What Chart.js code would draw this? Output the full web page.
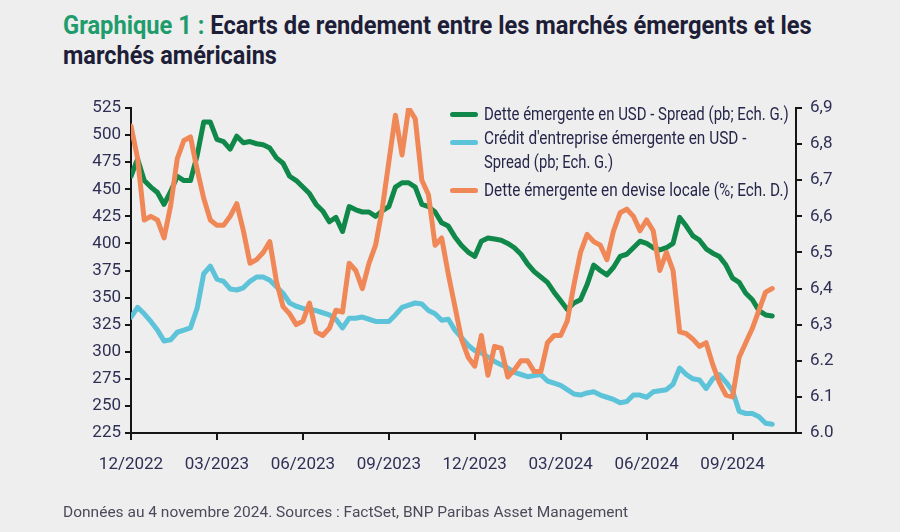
<!DOCTYPE html>
<html>
<head>
<meta charset="utf-8">
<title>Graphique 1 - Ecarts de rendement</title>
<script src="https://cdn.jsdelivr.net/npm/chart.js"></script>
<style>
  body { margin: 0; background: #eeeeee; }
  #wrap {
    position: relative; width: 900px; height: 532px; overflow: hidden;
    font-family: 'Roboto', 'Liberation Sans', sans-serif;
    color: #24243f;
  }
  .fit { position: absolute; white-space: nowrap; transform-origin: 0 0; }
  .title { left: 63px; font-size: 26px; font-weight: bold; color: #1e1e38; }
  .title span { color: #1f9c6c; }
  #chartBox { position: absolute; left: 0; top: 0; width: 900px; height: 532px; }
  .leg { left: 484px; font-size: 18px; color: #26264a; }
  .swatch { position: absolute; left: 450px; width: 28px; height: 5px; border-radius: 3px; }
  .note { left: 63px; font-size: 14px; color: #4a4a5a; }
</style>
</head>
<body>
<div id="wrap">
  <div class="fit title" style="top:10px;" data-w="749"><span>Graphique 1 :</span> Ecarts de rendement entre les marchés émergents et les</div>
  <div class="fit title" style="top:40px;" data-w="214">marchés américains</div>
  <div id="chartBox"><canvas id="spreadChart"></canvas></div>

  <!-- legend -->
  <div class="swatch" style="top:112px; background:#10884a;"></div>
  <div class="fit leg" style="top:103px;" data-w="305">Dette émergente en USD - Spread (pb; Ech. G.)</div>
  <div class="swatch" style="top:140px; background:#5cc3d9;"></div>
  <div class="fit leg" style="top:127px;" data-w="262">Crédit d'entreprise émergente en USD -</div>
  <div class="fit leg" style="top:151px;" data-w="129">Spread (pb; Ech. G.)</div>
  <div class="swatch" style="top:188px; background:#f08757;"></div>
  <div class="fit leg" style="top:179px;" data-w="305">Dette émergente en devise locale (%; Ech. D.)</div>

  <div class="fit note" style="top:504px;" data-w="565">Données au 4 novembre 2024. Sources : FactSet, BNP Paribas Asset Management</div>
</div>

<script>
// weekly readings, 12/2022 -> early 11/2024
const usdSpread = [
  462, 478, 458, 452, 447, 436, 448, 462, 458, 458,
  481, 512, 512, 496, 494, 487, 499, 493, 494, 492,
  491, 488, 479, 474, 462, 458, 452, 446, 436, 430,
  420, 424, 411, 434, 431, 429, 429, 425, 430, 434,
  452, 456, 456, 452, 436, 434, 429, 419, 416, 406,
  398, 392, 388, 402, 405, 404, 403, 400, 396, 390,
  381, 374, 369, 364, 355, 347, 339, 345, 348, 362,
  380, 375, 371, 378, 388, 390, 396, 402, 400, 396,
  394, 396, 400, 424, 416, 407, 403, 395, 391, 388,
  380, 368, 364, 354, 348, 338, 334, 333
];
const corpSpread = [
  332, 341, 335, 328, 320, 310, 311, 318, 320, 322,
  340, 372, 379, 367, 365, 358, 357, 359, 365, 369,
  369, 366, 360, 354, 345, 342, 340, 339, 338, 336,
  334, 330, 322, 331, 331, 332, 330, 328, 328, 328,
  334, 341, 343, 345, 344, 338, 335, 329, 330, 320,
  313, 306, 301, 299, 295, 291, 288, 285, 281, 279,
  277, 278, 279, 273, 271, 269, 265, 261, 260, 262,
  263, 260, 258, 256, 253, 254, 260, 260, 258, 263,
  264, 265, 270, 285, 279, 275, 274, 266, 275, 279,
  272, 264, 245, 243, 243, 240, 234, 233
];
const localYield = [
  6.85, 6.76, 6.59, 6.60, 6.59, 6.54, 6.63, 6.76, 6.81, 6.82,
  6.73, 6.65, 6.59, 6.575, 6.575, 6.60, 6.635, 6.56, 6.47, 6.48,
  6.50, 6.53, 6.42, 6.35, 6.33, 6.30, 6.31, 6.36, 6.28, 6.27,
  6.29, 6.34, 6.335, 6.47, 6.45, 6.40, 6.47, 6.52, 6.62, 6.75,
  6.88, 6.77, 6.90, 6.87, 6.70, 6.66, 6.52, 6.54, 6.44, 6.35,
  6.26, 6.21, 6.185, 6.27, 6.16, 6.24, 6.235, 6.155, 6.175, 6.20,
  6.20, 6.17, 6.17, 6.25, 6.27, 6.27, 6.31, 6.41, 6.50, 6.55,
  6.53, 6.52, 6.48, 6.56, 6.61, 6.62, 6.60, 6.56, 6.59, 6.56,
  6.45, 6.50, 6.45, 6.28, 6.275, 6.26, 6.24, 6.25, 6.19, 6.14,
  6.105, 6.10, 6.21, 6.25, 6.29, 6.34, 6.39, 6.40
];

// x axis: weeks since 12/2022, one label per quarter
const tickWeeks = [0, 13, 26, 39, 52, 65, 78, 91];
const tickLabels = ['12/2022', '03/2023', '06/2023', '09/2023', '12/2023', '03/2024', '06/2024', '09/2024'];
const rightTicks = [6.0, 6.1, 6.2, 6.3, 6.4, 6.5, 6.6, 6.7, 6.8, 6.9];
const rightLabels = ['6.0', '6.1', '6.2', '6,3', '6,4', '6,5', '6,6', '6,7', '6,8', '6,9'];

// squeeze the html text lines to the widths seen in the original
document.querySelectorAll('.fit').forEach(el => {
  const target = +el.dataset.w;
  el.style.transform = 'scaleX(' + (target / el.scrollWidth) + ')';
});

const FONT = "'Roboto', 'Liberation Sans', sans-serif";
const AXIS = '#151515';
const LABEL = '#2f2f55';

function toPoints(arr) {
  return arr.map((v, i) => ({ x: i, y: v }));
}

function lineSet(label, arr, color, axis, order) {
  return {
    label: label,
    data: toPoints(arr),
    yAxisID: axis,
    borderColor: color,
    borderWidth: 5,
    pointRadius: 0,
    tension: 0,
    borderJoinStyle: 'round',
    borderCapStyle: 'round',
    fill: false,
    order: order
  };
}

new Chart(document.getElementById('spreadChart'), {
  type: 'line',
  data: {
    datasets: [
      lineSet('Dette émergente en devise locale (%; Ech. D.)', localYield, '#f08757', 'yR', 0),
      lineSet('Dette émergente en USD - Spread (pb; Ech. G.)', usdSpread, '#10884a', 'yL', 1),
      lineSet("Crédit d'entreprise émergente en USD - Spread (pb; Ech. G.)", corpSpread, '#5cc3d9', 'yL', 2)
    ]
  },
  options: {
    responsive: true,
    maintainAspectRatio: false,
    animation: false,
    layout: { padding: { top: 108, bottom: 54, left: 0, right: 0 } },
    plugins: { legend: { display: false }, tooltip: { enabled: false } },
    scales: {
      x: {
        type: 'linear',
        min: 0,
        max: 100.6,
        afterBuildTicks: s => { s.ticks = tickWeeks.map(v => ({ value: v })); },
        afterFit: s => { s.height = 45; },
        ticks: {
          callback: (v, i) => tickLabels[i],
          font: { family: FONT, size: 17 },
          color: LABEL,
          padding: 15,
          maxRotation: 0,
          autoSkip: false
        },
        grid: { drawOnChartArea: false, tickLength: 7, color: AXIS, lineWidth: 2 },
        border: { color: AXIS, width: 2 }
      },
      yL: {
        position: 'left',
        min: 225,
        max: 525,
        afterFit: s => { s.width = 131; },
        ticks: {
          stepSize: 25,
          font: { family: FONT, size: 17 },
          color: LABEL,
          padding: 4
        },
        grid: { drawOnChartArea: false, tickLength: 6, color: AXIS, lineWidth: 2 },
        border: { color: AXIS, width: 2 }
      },
      yR: {
        position: 'right',
        min: 6.0,
        max: 6.9,
        afterBuildTicks: s => { s.ticks = rightTicks.map(v => ({ value: v })); },
        afterFit: s => { s.width = 104; },
        ticks: {
          callback: (v, i) => rightLabels[i],
          font: { family: FONT, size: 17 },
          color: LABEL,
          padding: 8
        },
        grid: { drawOnChartArea: false, tickLength: 6, color: AXIS, lineWidth: 2 },
        border: { color: AXIS, width: 2 }
      }
    }
  }
});
</script>
</body>
</html>
